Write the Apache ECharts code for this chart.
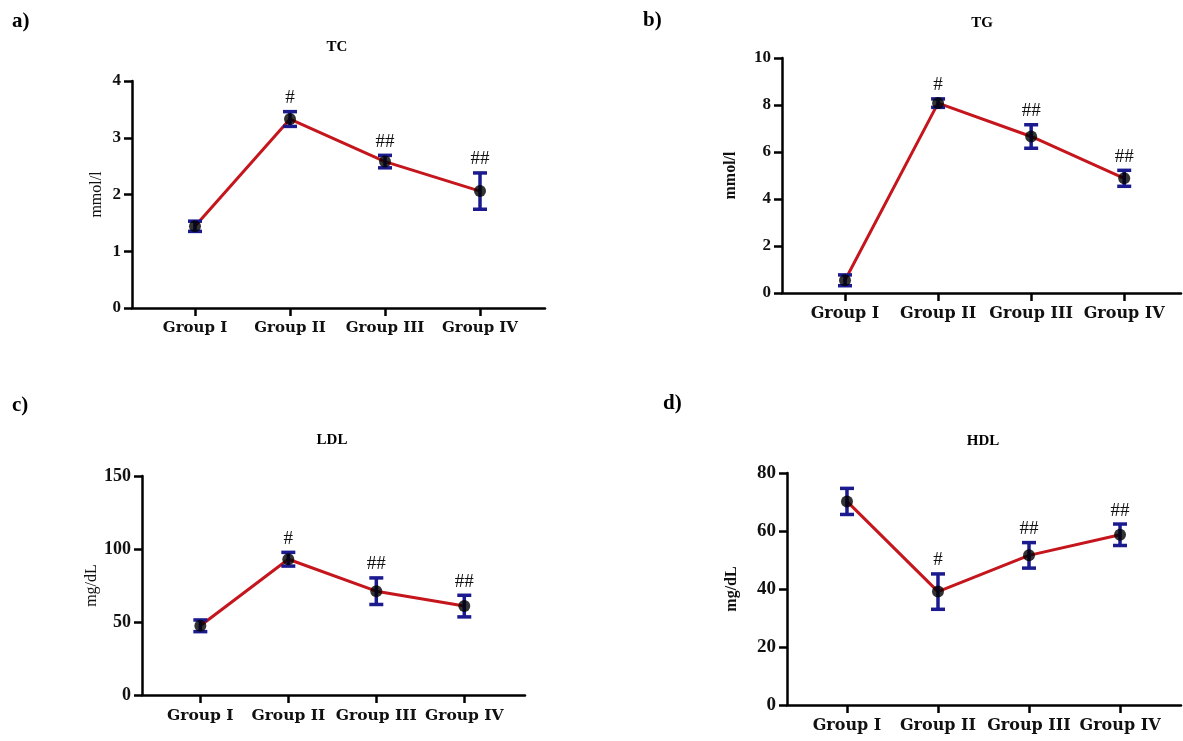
<!DOCTYPE html>
<html>
<head>
<meta charset="utf-8">
<script src="https://cdn.jsdelivr.net/npm/echarts@6/dist/echarts.min.js"></script>
<style>
html,body{margin:0;padding:0;background:#fff;}
#chart{width:1183px;height:741px;}
</style>
</head>
<body>
<div id="chart"></div>
<script>
// ---- data ----
const categories = ['Group I', 'Group II', 'Group III', 'Group IV'];
const catPos = [1, 2, 3, 4];
const marks = ['', '#', '##', '##'];

const tcMean = [1.44, 3.33, 2.58, 2.06];
const tcErr  = [0.09, 0.13, 0.11, 0.32];

const tgMean = [0.54, 8.08, 6.66, 4.88];
const tgErr  = [0.23, 0.18, 0.50, 0.34];

const ldlMean = [47.4, 93.0, 71.1, 60.9];
const ldlErr  = [4.0, 4.7, 9.1, 7.4];

const hdlMean = [70.2, 39.1, 51.6, 58.7];
const hdlErr  = [4.5, 6.1, 4.4, 3.7];

const panelLetters = ['a)', 'b)', 'c)', 'd)'];
const panelTitles = ['TC', 'TG', 'LDL', 'HDL'];
const yNames = ['mmol/l', 'mmol/l', 'mg/dL', 'mg/dL'];
const yTicks = [
  {min: 0, max: 4, interval: 1},
  {min: 0, max: 10, interval: 2},
  {min: 0, max: 150, interval: 50},
  {min: 0, max: 80, interval: 20}
];

// ---- layout (styles / positions) ----
const SERIF = '"Liberation Serif", "DejaVu Serif", serif';
const CATFONT = '"DejaVu Serif", "Liberation Serif", serif';
const panels = [
  {mean: tcMean, err: tcErr,  grid: {left: 132, top: 81, width: 413, height: 227}, xmin: 0.337, xmax: 4.684, nameGap: 27, nameBold: 'normal', catSize: 15, tickSize: 17,
   letter: {x: 12, y: 11}, title: {x: 337, y: 40}},
  {mean: tgMean, err: tgErr,  grid: {left: 782, top: 58, width: 399, height: 235}, xmin: 0.323, xmax: 4.61, nameGap: 43, nameBold: 'bold', catSize: 16, tickSize: 17,
   letter: {x: 643, y: 10}, title: {x: 982, y: 16}},
  {mean: ldlMean, err: ldlErr, grid: {left: 142, top: 476, width: 383, height: 219}, xmin: 0.337, xmax: 4.69, nameGap: 36, nameBold: 'normal', catSize: 15.5, tickSize: 18,
   letter: {x: 12, y: 395}, title: {x: 332, y: 433}},
  {mean: hdlMean, err: hdlErr, grid: {left: 787, top: 473, width: 394, height: 232}, xmin: 0.341, xmax: 4.67, nameGap: 47, nameBold: 'bold', catSize: 16, tickSize: 19,
   letter: {x: 663, y: 393}, title: {x: 983, y: 434}}
];

const RED = '#c4161c';
const NAVY = '#1b1b8f';

const grids = [], xAxes = [], yAxes = [], series = [], titles = [];

panels.forEach((p, i) => {
  grids.push(Object.assign({containLabel: false, outerBoundsMode: 'none'}, p.grid));
  xAxes.push({
    type: 'value', gridIndex: i, min: p.xmin, max: p.xmax,
    splitLine: {show: false},
    axisLine: {show: true, onZero: false, lineStyle: {color: '#000', width: 2.5}},
    axisTick: {show: true, customValues: catPos, length: 8, lineStyle: {color: '#000', width: 2.5}},
    axisLabel: {
      show: true, customValues: catPos, margin: 13,
      formatter: v => categories[Math.round(v) - 1] || '',
      fontFamily: CATFONT, fontWeight: 'bold', fontSize: p.catSize, color: '#111'
    }
  });
  yAxes.push(Object.assign({
    type: 'value', gridIndex: i,
    name: yNames[i], nameLocation: 'middle', nameGap: p.nameGap, nameRotate: 90,
    nameTextStyle: {fontFamily: SERIF, fontSize: 16, fontWeight: p.nameBold, color: '#111'},
    splitLine: {show: false},
    axisLine: {show: true, onZero: false, lineStyle: {color: '#000', width: 2.5}},
    axisTick: {show: true, length: 8, lineStyle: {color: '#000', width: 2.5}},
    axisLabel: {margin: 11, fontFamily: SERIF, fontWeight: 'bold', fontSize: p.tickSize, color: '#111'}
  }, yTicks[i]));

  const pts = catPos.map((x, k) => [x, p.mean[k]]);
  const errData = catPos.map((x, k) => [x, p.mean[k] - p.err[k], p.mean[k] + p.err[k], marks[k]]);

  series.push({
    type: 'line', xAxisIndex: i, yAxisIndex: i, data: pts,
    showSymbol: false, lineStyle: {color: RED, width: 3}, z: 2, silent: true
  });
  series.push({
    type: 'custom', xAxisIndex: i, yAxisIndex: i, data: errData, z: 3, silent: true,
    encode: {x: 0, y: [1, 2]},
    renderItem: function (params, api) {
      const x = api.value(0);
      const lo = api.coord([x, api.value(1)]);
      const hi = api.coord([x, api.value(2)]);
      const hw = 7;
      const st = {stroke: NAVY, lineWidth: 3.5};
      const mark = errData[params.dataIndex][3];
      return {
        type: 'group',
        children: [
          {type: 'line', shape: {x1: lo[0], y1: lo[1], x2: hi[0], y2: hi[1]}, style: st},
          {type: 'line', shape: {x1: lo[0] - hw, y1: lo[1], x2: lo[0] + hw, y2: lo[1]}, style: st},
          {type: 'line', shape: {x1: hi[0] - hw, y1: hi[1], x2: hi[0] + hw, y2: hi[1]}, style: st},
          {type: 'text', style: {text: mark, x: hi[0], y: hi[1] - 4, align: 'center', verticalAlign: 'bottom',
            textAlign: 'center', textVerticalAlign: 'bottom',
            font: '19px "Liberation Serif", serif', fill: '#111'}}
        ]
      };
    }
  });
  series.push({
    type: 'scatter', xAxisIndex: i, yAxisIndex: i, data: pts,
    symbol: 'circle', symbolSize: 12, itemStyle: {color: '#000'}, z: 4, silent: true
  });

  titles.push({
    text: panelLetters[i], left: p.letter.x, top: p.letter.y, padding: 0,
    textStyle: {fontFamily: SERIF, fontWeight: 'bold', fontSize: 21, color: '#000'}
  });
  titles.push({
    text: panelTitles[i], left: p.title.x, top: p.title.y, padding: 0, textAlign: 'center',
    textStyle: {fontFamily: SERIF, fontWeight: 'bold', fontSize: 15, color: '#000'}
  });
});

const chart = echarts.init(document.getElementById('chart'), null, {renderer: 'canvas'});
chart.setOption({
  animation: false,
  backgroundColor: '#fff',
  title: titles,
  grid: grids,
  xAxis: xAxes,
  yAxis: yAxes,
  series: series
});
</script>
</body>
</html>
